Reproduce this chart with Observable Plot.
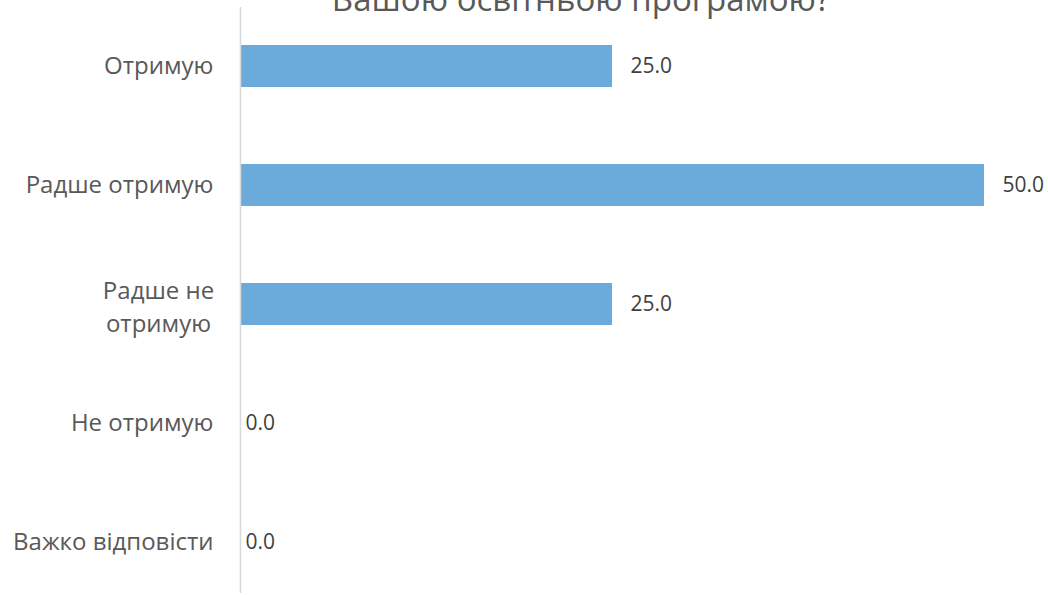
<!DOCTYPE html>
<html>
<head>
<meta charset="utf-8">
<script src="https://cdn.jsdelivr.net/npm/d3@7"></script>
<script src="https://cdn.jsdelivr.net/npm/@observablehq/plot@0.6"></script>
<style>
  html, body { margin: 0; padding: 0; background: #fff; overflow: hidden; }
  #wrap { position: relative; width: 1049px; height: 595px; }
  #title { position: absolute; left: 0; width: 1162px; top: -18px; text-align: center;
           font-family: "Open Sans", sans-serif; font-size: 33px; line-height: 1; color: #595959; white-space: nowrap; }
  #chart { position: absolute; left: 0; top: 0; }
</style>
</head>
<body>
<div id="wrap">
  <div id="chart"></div>
  <div id="title">Вашою освітньою програмою?</div>
</div>
<script>
const categories = ["Отримую", "Радше отримую", "Радше не\nотримую", "Не отримую", "Важко відповісти"];
const values = [25.0, 50.0, 25.0, 0.0, 0.0];

const data = categories.map((c, i) => ({category: c, value: values[i]}));
const singleLine = categories.filter(c => !c.includes("\n"));
const wrapped = categories.filter(c => c.includes("\n"));

const chart = Plot.plot({
  width: 1049,
  height: 595,
  marginLeft: 240,
  marginRight: 65,
  marginTop: 44,
  marginBottom: 31,
  style: {fontFamily: "Open Sans, sans-serif", background: "#fff"},
  x: {domain: [0, 50], axis: null},
  y: {domain: categories, paddingInner: 0.65, paddingOuter: 0, axis: null},
  marks: [
    Plot.barX(data, {x: "value", y: "category", fill: "#6aabdb"}),
    Plot.ruleX([0], {stroke: "#d9d9d9", strokeWidth: 1.5, insetTop: -37, insetBottom: -29}),
    Plot.axisY({ticks: singleLine, tickSize: 0, tickPadding: 27, fontSize: 24, fill: "#595959", label: null}),
    Plot.text(wrapped, {y: d => d, text: d => d, frameAnchor: "left", textAnchor: "middle", dx: -82, fontSize: 24, lineHeight: 1.38, fill: "#595959"}),
    Plot.text(data.filter(d => d.value > 0), {x: "value", y: "category", text: d => d.value.toFixed(1), textAnchor: "start", dx: 18, fontSize: 21, fill: "#404040"}),
    Plot.text(data.filter(d => d.value === 0), {x: "value", y: "category", text: d => d.value.toFixed(1), textAnchor: "start", dx: 5, fontSize: 21, fill: "#404040"})
  ]
});
document.getElementById("chart").appendChild(chart);
</script>
</body>
</html>
